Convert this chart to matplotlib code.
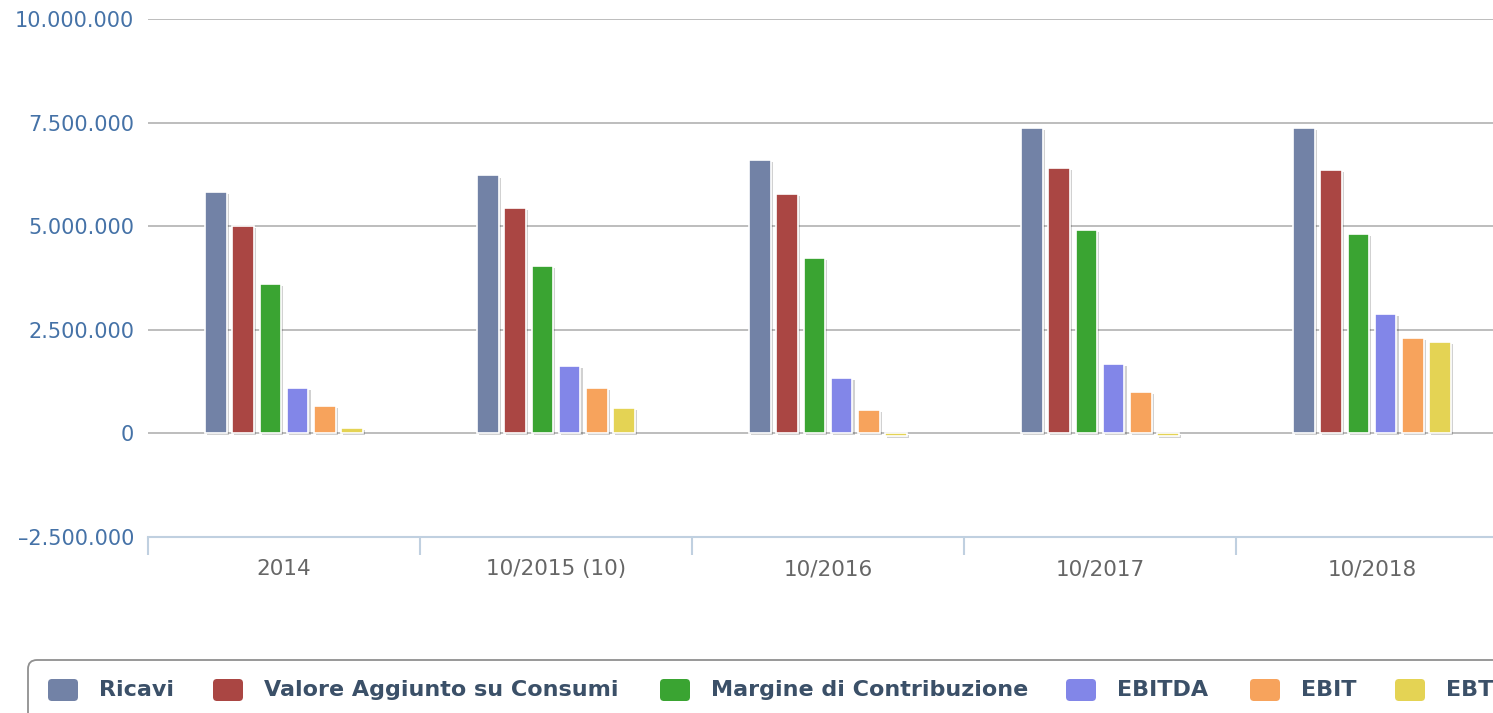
import numpy as np
import matplotlib
matplotlib.use('Agg')
import matplotlib.pyplot as plt
import matplotlib.patheffects as pe
from matplotlib.patches import FancyBboxPatch
from matplotlib.transforms import Affine2D
from matplotlib.ticker import FuncFormatter

# data
categories = ['2014', '10/2015 (10)', '10/2016', '10/2017', '10/2018']
series_names = ['Ricavi', 'Valore Aggiunto su Consumi', 'Margine di Contribuzione',
                'EBITDA', 'EBIT', 'EBT']
ricavi = [5830000, 6225000, 6600000, 7375000, 7375000]
valore = [5010000, 5440000, 5775000, 6410000, 6360000]
margine = [3610000, 4040000, 4235000, 4910000, 4815000]
ebitda = [1095000, 1625000, 1340000, 1675000, 2880000]
ebit = [660000, 1095000, 555000, 1000000, 2300000]
ebt = [130000, 610000, -60000, -60000, 2205000]
series_values = [ricavi, valore, margine, ebitda, ebit, ebt]
colors = ['#7282a6', '#aa4643', '#3aa432', '#8286e8', '#f7a35c', '#e4d354']
y_ticks = [-2500000, 0, 2500000, 5000000, 7500000, 10000000]

W, H = 1493, 713
fig = plt.figure(figsize=(W/100, H/100), dpi=100)
# pixel coordinates (origin top-left) -> figure fraction
px = Affine2D().scale(1.0/W, -1.0/H).translate(0, 1) + fig.transFigure

# plot area runs past the right edge like the reference crop
ax = fig.add_axes([148/W, 1-537/H, 1360/W, (537-19)/H])
x = np.arange(len(categories))
slot = 0.6/len(series_names)
shadow = [pe.SimplePatchShadow(offset=(1.5, -1.5), shadow_rgbFace='black', alpha=0.18), pe.Normal()]
for i, (vals, c) in enumerate(zip(series_values, colors)):
	bars = ax.bar(x + (i - 2.5)*slot, vals, width=slot*0.8, color=c,
	              edgecolor='white', linewidth=1.2, zorder=3)
	for b in bars:
		b.set_path_effects(shadow)

ax.set_xlim(-0.5, len(categories)-0.5)
ax.set_ylim(-2500000, 10000000)
ax.set_yticks(y_ticks)
ax.yaxis.set_major_formatter(FuncFormatter(lambda v, p: '{:,.0f}'.format(v).replace(',', '.').replace('-', '\u2013')))
for v in y_ticks[1:]:
	ax.axhline(v, color='#bdbdbd', lw=1.4, zorder=1)

for s in ['top', 'right', 'left']:
	ax.spines[s].set_visible(False)
ax.spines['bottom'].set_color('#c0d0e0')
ax.spines['bottom'].set_linewidth(1.5)

ax.tick_params(axis='y', length=0, pad=10, labelsize=15, labelcolor='#4572a7')
ax.set_xticks(x)
ax.set_xticklabels(categories)
ax.set_xticks(np.arange(len(categories)+1) - 0.5, minor=True)
ax.tick_params(axis='x', which='major', length=0, pad=16, labelsize=15.5, labelcolor='#666666')
ax.tick_params(axis='x', which='minor', length=13, width=1.5, color='#c0d0e0')

# legend box drawn by hand, cut off at right/bottom like the reference
box = FancyBboxPatch((28, 660), 1520, 80, boxstyle='round,pad=0,rounding_size=9',
                     transform=px, facecolor='white', edgecolor='#909090', lw=1.3)
fig.patches.append(box)
item_x = [48, 213, 660, 1066, 1250, 1395]
for lx, name, c in zip(item_x, series_names, colors):
	m = FancyBboxPatch((lx, 679), 30, 22, boxstyle='round,pad=0,rounding_size=4',
	                   transform=px, facecolor=c, edgecolor='none')
	fig.patches.append(m)
	fig.text(lx + 51, 690, name, transform=px, ha='left', va='center',
	         fontsize=16, fontweight='bold', color='#3b5068')

fig.savefig('out.png', dpi=100)
